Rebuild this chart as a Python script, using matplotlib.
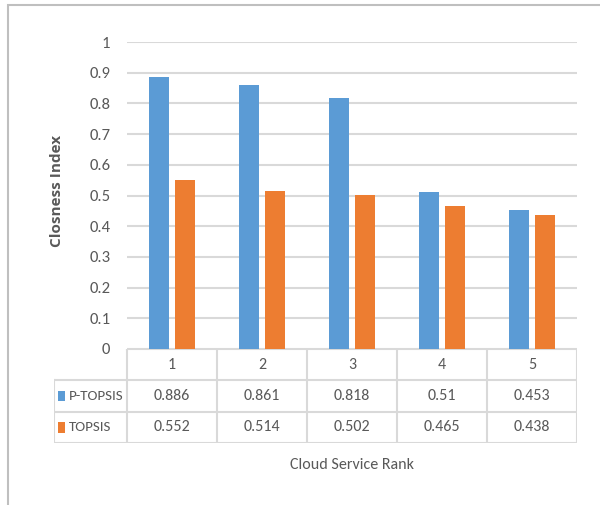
import matplotlib.pyplot as plt
import numpy as np
from matplotlib.patches import Rectangle

ranks = ['1', '2', '3', '4', '5']
series_names = ['P-TOPSIS', 'TOPSIS']
p_topsis = [0.886, 0.861, 0.818, 0.51, 0.453]
topsis = [0.552, 0.514, 0.502, 0.465, 0.438]
colors = ['#5B9BD5', '#ED7D31']

plt.rcParams['font.family'] = ['Carlito', 'DejaVu Sans']
text_col = '#595959'
grid_col = '#D9D9D9'

W, H = 600, 505
fig = plt.figure(figsize=(W / 100, H / 100), dpi=100)

def box(x0, y0, x1, y1):
    # pixel box (top-left origin) -> figure fraction rect
    return [x0 / W, 1 - y1 / H, (x1 - x0) / W, (y1 - y0) / H]

# outer chart border
fig.patches.append(Rectangle((8 / W, -0.01), 1.0, 1 - 5 / H + 0.01,
                             transform=fig.transFigure, fill=False,
                             edgecolor='#BFBFBF', lw=1.5))

ax = fig.add_axes(box(127, 42, 577, 349))
x = np.arange(len(ranks))
bw = 0.22
ax.bar(x - 0.145, p_topsis, bw, color=colors[0], zorder=3)
ax.bar(x + 0.145, topsis, bw, color=colors[1], zorder=3)
ax.set_xlim(-0.5, len(ranks) - 0.5)
ax.set_ylim(0, 1)
ax.set_yticks(np.arange(0, 1.01, 0.1))
ax.set_yticklabels(['0', '0.1', '0.2', '0.3', '0.4', '0.5', '0.6', '0.7', '0.8', '0.9', '1'])
ax.yaxis.grid(True, color=grid_col, lw=1.5, zorder=0)
ax.tick_params(axis='y', length=0, pad=12, labelsize=12, labelcolor=text_col)
ax.set_xticks([])
for s in ax.spines.values():
    s.set_visible(False)
ax.set_ylabel('Closness Index', fontsize=11, fontweight='bold', color=text_col,
              family='Open Sans')
ax.yaxis.set_label_coords(-0.14, 0.515)

# data table under the plot
leg_w = 73 / 90
tab = fig.add_axes(box(54, 349, 577, 443))
tab.set_xlim(-0.5 - leg_w, len(ranks) - 0.5)
tab.set_ylim(3, 0)
tab.axis('off')
lk = dict(color=grid_col, lw=1.5, solid_capstyle='projecting')
left_all = -0.5 - leg_w
right = len(ranks) - 0.5
tab.plot([-0.5, right], [0, 0], **lk)
tab.plot([left_all, right], [1, 1], **lk)
tab.plot([left_all, right], [2, 2], **lk)
tab.plot([left_all, right], [3, 3], **lk)
tab.plot([left_all, left_all], [1, 3], **lk)
for e in np.arange(-0.5, len(ranks)):
    tab.plot([e, e], [0, 3], **lk)

fs = 11.5
for i, r in enumerate(ranks):
    tab.text(i, 0.5, r, ha='center', va='center', fontsize=fs, color=text_col)
    tab.text(i, 1.5, f'{p_topsis[i]:g}', ha='center', va='center', fontsize=fs, color=text_col)
    tab.text(i, 2.5, f'{topsis[i]:g}', ha='center', va='center', fontsize=fs, color=text_col)
for j, (name, c) in enumerate(zip(series_names, colors)):
    tab.add_patch(Rectangle((left_all + 0.04, 1.5 + j - 0.17), 0.08, 0.34,
                            color=c, lw=0))
    tab.text(left_all + 0.17, 1.5 + j, name, ha='left', va='center',
             fontsize=10.8, color=text_col)

fig.text(352 / W, 1 - 465 / H, 'Cloud Service Rank', ha='center', va='center',
         fontsize=11.5, color=text_col)

fig.savefig('out.png', dpi=100)
